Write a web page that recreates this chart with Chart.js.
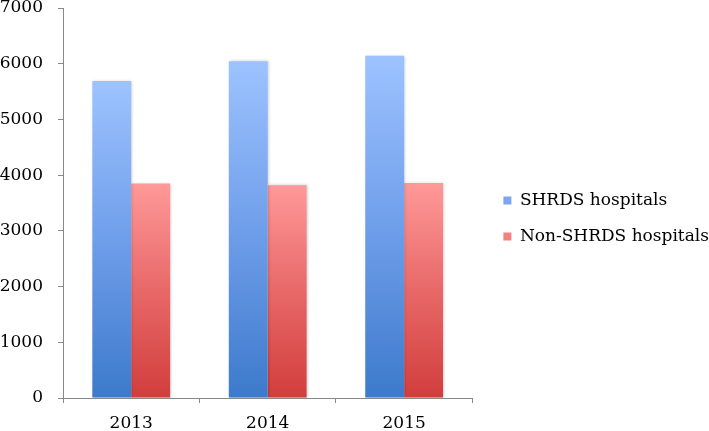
<!DOCTYPE html>
<html>
<head>
<meta charset="utf-8">
<script src="https://cdn.jsdelivr.net/npm/chart.js@4/dist/chart.umd.min.js"></script>
<style>
  html, body { margin: 0; padding: 0; background: #ffffff; }
  #wrap { width: 709px; height: 431px; position: relative; }
</style>
</head>
<body>
<div id="wrap"><canvas id="c" width="709" height="431"></canvas></div>
<script>
const categories = ['2013', '2014', '2015'];
const shrdsValues = [5690, 6045, 6145];
const nonShrdsValues = [3850, 3820, 3860];
const seriesNames = ['SHRDS hospitals', 'Non-SHRDS hospitals'];
const yTicks = [0, 1000, 2000, 3000, 4000, 5000, 6000, 7000];
const yTickLabels = ['0', '1000', '2000', '3000', '4000', '5000', '6000', '7000'];

const FAMILY = '"DejaVu Serif", serif';

function gradientFill(top, mid, bottom, legendColor) {
  return function (ctx) {
    const chart = ctx.chart;
    if (!chart.chartArea || ctx.type !== 'data') return legendColor;
    const ys = chart.scales.y;
    const yTop = ys.getPixelForValue(ctx.raw);
    const yBot = ys.getPixelForValue(0);
    const g = chart.ctx.createLinearGradient(0, yTop, 0, yBot);
    g.addColorStop(0, top);
    g.addColorStop(0.5, mid);
    g.addColorStop(1, bottom);
    return g;
  };
}

const legendShift = {
  id: 'legendShift',
  beforeInit(chart) {
    const origFit = chart.legend.fit;
    chart.legend.fit = function () {
      origFit.bind(chart.legend)();
      this.width += 2;
    };
  },
  afterLayout(chart) {
    const lg = chart.legend;
    lg.left += 12;
    lg.top += 3;
    lg.bottom += 3;
  }
};

const barShadow = {
  id: 'barShadow',
  beforeDatasetsDraw(chart) {
    const c = chart.ctx;
    c.save();
    c.shadowColor = 'rgba(0,0,0,0.22)';
    c.shadowBlur = 3;
    c.shadowOffsetX = 1;
    c.shadowOffsetY = 0;
  },
  afterDatasetsDraw(chart) {
    chart.ctx.restore();
  }
};

new Chart(document.getElementById('c'), {
  type: 'bar',
  data: {
    labels: categories,
    datasets: [
      {
        label: seriesNames[0],
        data: shrdsValues,
        backgroundColor: gradientFill('#9dc3ff', '#6f9eea', '#3d7acb', '#5b8fe0'),
        borderWidth: 0,
        categoryPercentage: 0.57,
        barPercentage: 1.0
      },
      {
        label: seriesNames[1],
        data: nonShrdsValues,
        backgroundColor: gradientFill('#ff9999', '#e86868', '#d13e3c', '#e06060'),
        borderWidth: 0,
        categoryPercentage: 0.57,
        barPercentage: 1.0
      }
    ]
  },
  options: {
    responsive: false,
    animation: false,
    devicePixelRatio: 1,
    layout: { padding: 0 },
    plugins: {
      legend: {
        position: 'right',
        maxWidth: 320,
        labels: {
          boxWidth: 8,
          boxHeight: 8,
          padding: 19,
          color: '#000000',
          font: { family: FAMILY, size: 17, lineHeight: 1.2 }
        }
      },
      tooltip: { enabled: false }
    },
    scales: {
      x: {
        afterFit(scale) {
          scale.height = 33;
        },
        grid: {
          display: true,
          drawOnChartArea: false,
          drawTicks: true,
          tickLength: 5,
          color: '#888888',
          offset: true
        },
        border: { display: true, color: '#888888', width: 1 },
        ticks: {
          color: '#000000',
          font: { family: FAMILY, size: 17, lineHeight: 1.2 },
          padding: 10
        }
      },
      y: {
        min: 0,
        max: 7000,
        afterBuildTicks(scale) {
          scale.ticks = yTicks.map(v => ({ value: v }));
        },
        afterFit(scale) {
          scale.width = 63;
          scale.paddingTop = 8;
          scale.paddingBottom = 0;
        },
        grid: {
          display: true,
          drawOnChartArea: false,
          drawTicks: true,
          tickLength: 5,
          color: '#888888'
        },
        border: { display: true, color: '#888888', width: 1 },
        ticks: {
          color: '#000000',
          font: { family: FAMILY, size: 17, lineHeight: 1 },
          padding: 15,
          callback: (value) => yTickLabels[yTicks.indexOf(value)]
        }
      }
    }
  },
  plugins: [legendShift, barShadow]
});
</script>
</body>
</html>
